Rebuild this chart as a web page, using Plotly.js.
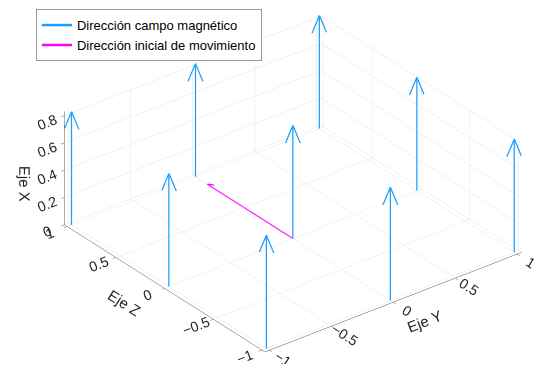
<!DOCTYPE html>
<html>
<head>
<meta charset="utf-8">
<script src="https://cdn.plot.ly/plotly-3.0.1.min.js"></script>
<style>html,body{margin:0;padding:0;background:#fff;}#chart{width:536px;height:380px;}</style>
</head>
<body>
<div id="chart"></div>
<script>
// ---- data ----
const gridEjeY = [-1, 0, 1];          // arrow base positions along Eje Y
const gridEjeZ = [-1, 0, 1];          // arrow base positions along Eje Z
const fieldLength = 0.83;             // magnetic field arrows (along Eje X)
const motionOrigin = [0, 0, 0];       // [Eje Y, Eje Z, Eje X]
const motionVector = [0, 0.88, 0];    // initial movement (along Eje Z)
const tickX = [0, 0.2, 0.4, 0.6, 0.8];
const tickYZ = [-1, -0.5, 0, 0.5, 1];
const names = ['Dirección campo magnético', 'Dirección inicial de movimiento'];

// ---- styling of arrow heads (screen-facing V) ----
const headLen = 0.13, headHalf = 0.047;
const perp = [0.788, -0.616];  // horizontal-on-screen direction in (EjeY, EjeZ)

function pushSeg(a, b, xs, ys, zs) {
  xs.push(a[0], b[0], null); ys.push(a[1], b[1], null); zs.push(a[2], b[2], null);
}

const bx = [], by = [], bz = [];
gridEjeY.forEach(yv => {
  gridEjeZ.forEach(zv => {
    const base = [yv, zv, 0];
    const tip = [yv, zv, fieldLength];
    pushSeg(base, tip, bx, by, bz);
    const l = [yv - perp[0] * headHalf, zv - perp[1] * headHalf, fieldLength - headLen];
    const r = [yv + perp[0] * headHalf, zv + perp[1] * headHalf, fieldLength - headLen];
    bx.push(l[0], tip[0], r[0], null);
    by.push(l[1], tip[1], r[1], null);
    bz.push(l[2], tip[2], r[2], null);
  });
});

const mx = [], my = [], mz = [];
const mTip = [motionOrigin[0] + motionVector[0], motionOrigin[1] + motionVector[1], motionOrigin[2] + motionVector[2]];
pushSeg(motionOrigin, mTip, mx, my, mz);
const mh = 0.07, mw = 0.025;
mx.push(mTip[0], mTip[0], mTip[0], null);
my.push(mTip[1] - mh, mTip[1], mTip[1] - mh, null);
mz.push(mTip[2] + mw, mTip[2], mTip[2] - mw, null);

const blue = '#1A9FFF', magenta = '#FF00FF';
const traces = [
  {type: 'scatter3d', mode: 'lines', x: bx, y: by, z: bz, name: names[0],
   line: {color: blue, width: 2.5}, hoverinfo: 'skip', connectgaps: false},
  {type: 'scatter3d', mode: 'lines', x: mx, y: my, z: mz, name: names[1],
   line: {color: magenta, width: 2.5}, hoverinfo: 'skip', connectgaps: false}
];

const axisCommon = {
  showbackground: false, gridcolor: '#E3E3E3', gridwidth: 1,
  showline: true, linecolor: '#555555', linewidth: 1,
  ticks: 'outside', ticklen: 4, tickcolor: '#555555',
  tickfont: {family: 'Liberation Sans, Arial, sans-serif', size: 13, color: '#262626'},
  zeroline: false, showspikes: false
};
const k = 1.7;
const eye = [-0.535, -0.684, 0.496];
const zoom = 1.79;
const shift = [-0.108, 0.084, 0];   // moves the view right so the box sits where the reference has it
const layout = {
  width: 536, height: 380,
  margin: {l: 0, r: 0, t: 0, b: 0},
  paper_bgcolor: '#fff',
  font: {family: 'Liberation Sans, Arial, sans-serif', color: '#262626'},
  showlegend: true,
  legend: {x: 0.067, y: 0.976, xanchor: 'left', yanchor: 'top',
    bgcolor: '#fff', bordercolor: '#999', borderwidth: 1,
    font: {size: 13, color: '#000'}, tracegroupgap: 0},
  scene: {
    domain: {x: [0, 1], y: [0.042, 1]},
    aspectmode: 'manual',
    aspectratio: {x: 1 * zoom, y: 1 * zoom, z: 0.40 * zoom},
    camera: {projection: {type: 'orthographic'},
      eye: {x: eye[0] * k + shift[0], y: eye[1] * k + shift[1], z: eye[2] * k + shift[2]},
      up: {x: 0, y: 0, z: 1}, center: {x: shift[0], y: shift[1], z: shift[2]}},
    xaxis: Object.assign({}, axisCommon, {range: [-1.035, 1.035], tickvals: tickYZ,
      title: {text: 'Eje Y', font: {size: 15}}}),
    yaxis: Object.assign({}, axisCommon, {range: [-1.03, 1.03], tickvals: tickYZ,
      title: {text: 'Eje Z', font: {size: 15}}}),
    zaxis: Object.assign({}, axisCommon, {range: [0, 0.83], tickvals: tickX,
      title: {text: 'Eje X', font: {size: 15}}})
  }
};
Plotly.newPlot('chart', traces, layout, {displayModeBar: false});
</script>
</body>
</html>
